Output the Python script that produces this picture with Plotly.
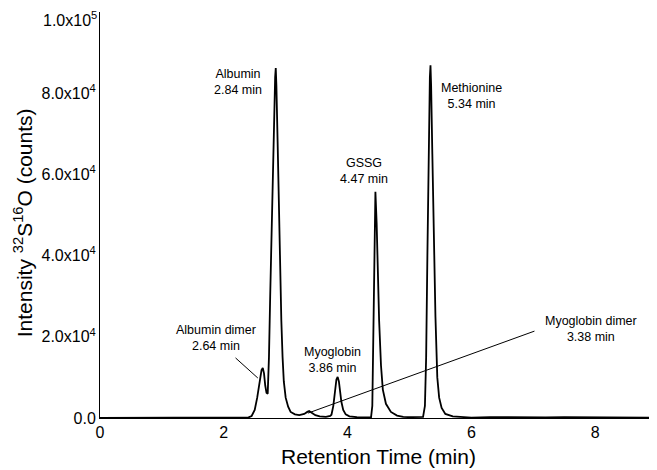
import plotly.graph_objects as go

# Chromatogram data (retention time in min, intensity in counts)
time_min = [0.0, 0.5, 1.0, 1.5, 2.0, 2.3, 2.4, 2.45, 2.50, 2.54, 2.58, 2.61, 2.63, 2.65, 2.67, 2.69, 2.71,
            2.73, 2.75, 2.77, 2.79, 2.81, 2.83, 2.84, 2.85, 2.87, 2.89, 2.91, 2.93, 2.95, 2.97, 3.00,
            3.04, 3.08, 3.15, 3.22, 3.30, 3.35, 3.38, 3.42, 3.48, 3.55, 3.65, 3.72,
            3.74, 3.77, 3.80, 3.82, 3.84, 3.86, 3.88, 3.90, 3.93, 3.97, 4.03, 4.15, 4.30,
            4.38, 4.40, 4.42, 4.44, 4.45, 4.47, 4.49, 4.51, 4.54, 4.57, 4.62, 4.70, 4.80, 4.90, 5.00, 5.10, 5.20,
            5.22, 5.25, 5.27, 5.29, 5.31, 5.33, 5.34, 5.35, 5.37, 5.39, 5.42, 5.45, 5.48, 5.52, 5.58, 5.70, 5.90,
            6.0, 6.3, 6.6, 6.9, 7.2, 7.5, 8.0, 8.5, 9.0]
intensity = [0, 0, 0, 0, 0, 50, 150, 500, 2000, 5000, 9000, 11800, 12300, 11000, 8000, 6200, 6000,
             15000, 30000, 45000, 60000, 73000, 84000, 86200, 82000, 68000, 50000, 36000, 24000, 15000, 9000, 5000,
             2800, 1500, 900, 700, 1000, 1500, 1700, 1300, 700, 400, 300, 500,
             800, 3000, 7000, 9500, 10100, 9000, 6500, 4000, 2000, 900, 400, 200, 150,
             200, 3000, 20000, 45000, 55700, 48000, 35000, 24000, 13000, 7000, 3500, 1500, 600, 300, 200, 200, 300,
             300, 3000, 15000, 40000, 68000, 84000, 86900, 82000, 65000, 45000, 25000, 10000, 5000, 2500, 1000, 400, 200,
             100, 200, 150, 250, 150, 200, 100, 50, 50]

# Peak labels: (text, x, y)
label_texts = ["Albumin<br>2.84 min", "Albumin dimer<br>2.64 min", "Myoglobin<br>3.86 min",
               "GSSG<br>4.47 min", "Methionine<br>5.34 min", "Myoglobin dimer<br>3.38 min"]
label_x = [2.23, 1.87, 3.76, 4.27, 6.0, 7.94]
label_y = [82800, 19800, 14300, 60800, 79200, 21800]

# Leader lines: (x0, y0, x1, y1)
leader_x0 = [2.19, 3.36]
leader_y0 = [14800, 1200]
leader_x1 = [2.55, 7.02]
leader_y1 = [9850, 21400]

y_tickvals = [0, 20000, 40000, 60000, 80000, 100000]
y_ticktext = ["0.0", "2.0x10<sup>4</sup>", "4.0x10<sup>4</sup>", "6.0x10<sup>4</sup>",
              "8.0x10<sup>4</sup>", "1.0x10<sup>5</sup>"]
x_tickvals = [0, 2, 4, 6, 8]

x_title = "Retention Time (min)"
y_title = "Intensity <sup>32</sup>S<sup>16</sup>O (counts)"

font_family = "Arial, 'Liberation Sans', sans-serif"

fig = go.Figure()
fig.add_trace(go.Scatter(x=time_min, y=intensity, mode="lines",
                         line=dict(color="black", width=1.8), showlegend=False))

for t, x, y in zip(label_texts, label_x, label_y):
    fig.add_annotation(x=x, y=y, text=t, showarrow=False, xanchor="center", yanchor="middle",
                       font=dict(family=font_family, size=12.5, color="black"))

for x0, y0, x1, y1 in zip(leader_x0, leader_y0, leader_x1, leader_y1):
    fig.add_shape(type="line", x0=x0, y0=y0, x1=x1, y1=y1, xref="x", yref="y",
                  line=dict(color="black", width=1))

# Axis titles as annotations (fixed positions)
fig.add_annotation(x=0.5, y=-0.096, xref="paper", yref="paper", text=x_title, showarrow=False,
                   xanchor="center", yanchor="middle",
                   font=dict(family=font_family, size=21, color="black"))
fig.add_annotation(x=-0.138, y=0.48, xref="paper", yref="paper", text=y_title, showarrow=False,
                   xanchor="center", yanchor="middle", textangle=-90,
                   font=dict(family=font_family, size=21, color="black"))

# Top y tick label drawn as an annotation so it stays inside the figure edge
fig.add_annotation(x=0, y=y_tickvals[-1], xref="paper", yref="y", text=y_ticktext[-1], showarrow=False,
                   xanchor="right", yanchor="top", xshift=-1, yshift=5,
                   font=dict(family=font_family, size=16, color="black"))

# The page body adds an 8px offset, so the figure is sized to end at the window edge
fig.update_layout(
    width=649, height=462,
    margin=dict(l=92, r=0, t=4, b=52, autoexpand=False),
    paper_bgcolor="white", plot_bgcolor="white",
    font=dict(family=font_family, color="black", size=16),
    xaxis=dict(range=[0, 9], tickvals=x_tickvals, showgrid=False, zeroline=False,
               showline=True, linecolor="black", linewidth=1, ticks="",
               tickfont=dict(size=16), automargin=False, ticklabeloverflow="allow"),
    yaxis=dict(range=[0, 100000], tickvals=y_tickvals[:-1], ticktext=y_ticktext[:-1], showgrid=False,
               zeroline=False, showline=True, linecolor="black", linewidth=1, ticks="",
               tickfont=dict(size=16), automargin=False, ticklabeloverflow="allow"),
)

fig.write_html("out.html")
